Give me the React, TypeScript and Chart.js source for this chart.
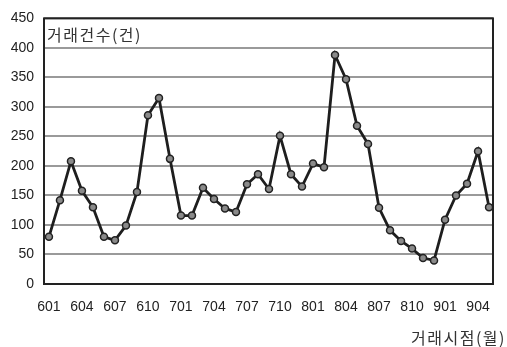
import React, { useEffect, useRef } from "react";
import { Chart, registerables } from "chart.js";

Chart.register(...registerables);

const periods: string[] = [
  "601", "602", "603", "604", "605", "606", "607", "608", "609", "610", "611", "612",
  "701", "702", "703", "704", "705", "706", "707", "708", "709", "710", "711", "712",
  "801", "802", "803", "804", "805", "806", "807", "808", "809", "810", "811", "812",
  "901", "902", "903", "904", "905",
];

const counts: number[] = [
  80, 142, 208, 158, 130, 80, 74, 99, 156, 286, 315, 212,
  116, 116, 163, 144, 128, 122, 169, 186, 161, 251, 186, 165,
  204, 198, 388, 347, 268, 237, 129, 91, 73, 60, 44, 40,
  109, 150, 170, 225, 130,
];

const xTickLabels: string[] = [
  "601", "604", "607", "610", "701", "704", "707", "710", "801", "804", "807", "810", "901", "904",
];

const yTitle = "거래건수(건)";
const xTitle = "거래시점(월)";

const FONT = "'Liberation Sans', Arial, sans-serif";
const KFONT = "'Noto Sans CJK KR', 'Noto Sans', sans-serif";

export default function App() {
  const ref = useRef<HTMLCanvasElement | null>(null);

  useEffect(() => {
    if (!ref.current) return;
    const frame = {
      id: "frameAndTitles",
      afterDraw(chart: any) {
        const { ctx, chartArea } = chart;
        ctx.save();
        ctx.strokeStyle = "#222";
        ctx.lineWidth = 2;
        ctx.strokeRect(chartArea.left, chartArea.top, chartArea.right - chartArea.left, chartArea.bottom - chartArea.top);
        ctx.fillStyle = "#333";
        ctx.font = `16px ${KFONT}`;
        (ctx as any).letterSpacing = "1.5px";
        ctx.textBaseline = "middle";
        ctx.textAlign = "left";
        ctx.fillText(yTitle, chartArea.left + 3, chartArea.top + 17);
        ctx.textAlign = "right";
        ctx.fillText(xTitle, chart.width - 1, 338);
        ctx.restore();
      },
    };
    const chart = new Chart(ref.current, {
      type: "line",
      data: {
        datasets: [
          {
            data: counts.map((v, i) => ({ x: i, y: v })),
            borderColor: "#1e1e1e",
            borderWidth: 2.8,
            pointBackgroundColor: "#8a8a8a",
            pointBorderColor: "#222",
            pointBorderWidth: 1.5,
            pointRadius: 3.5,
            tension: 0,
          },
        ],
      },
      options: {
        responsive: false,
        animation: false,
        layout: { padding: { left: 0, right: 14, top: 13, bottom: 0 } },
        plugins: { legend: { display: false }, tooltip: { enabled: false } },
        scales: {
          x: {
            type: "linear",
            min: -0.45,
            max: 40.36,
            grid: { display: false, drawTicks: false },
            border: { display: false },
            afterFit: (s: any) => { s.height = 63; },
            afterBuildTicks: (s: any) => {
              s.ticks = xTickLabels.map((l) => ({ value: periods.indexOf(l) }));
            },
            ticks: {
              autoSkip: false,
              maxRotation: 0,
              padding: 15,
              color: "#222",
              font: { family: FONT, size: 14 },
              callback: (v: any) => periods[Math.round(Number(v))],
            },
          },
          y: {
            min: 0,
            max: 450,
            grid: { color: "#9a9a9a", lineWidth: 2, drawTicks: false },
            border: { display: false },
            afterFit: (s: any) => { s.width = 44; },
            ticks: {
              stepSize: 50,
              padding: 10,
              color: "#222",
              font: { family: FONT, size: 14 },
            },
          },
        },
      },
      plugins: [frame],
    } as any);
    return () => chart.destroy();
  }, []);

  return (
    <div style={{ position: "fixed", left: 0, top: 0, width: 507, height: 347, background: "#fff" }}>
      <canvas ref={ref} width={507} height={347} style={{ display: "block" }} />
    </div>
  );
}
